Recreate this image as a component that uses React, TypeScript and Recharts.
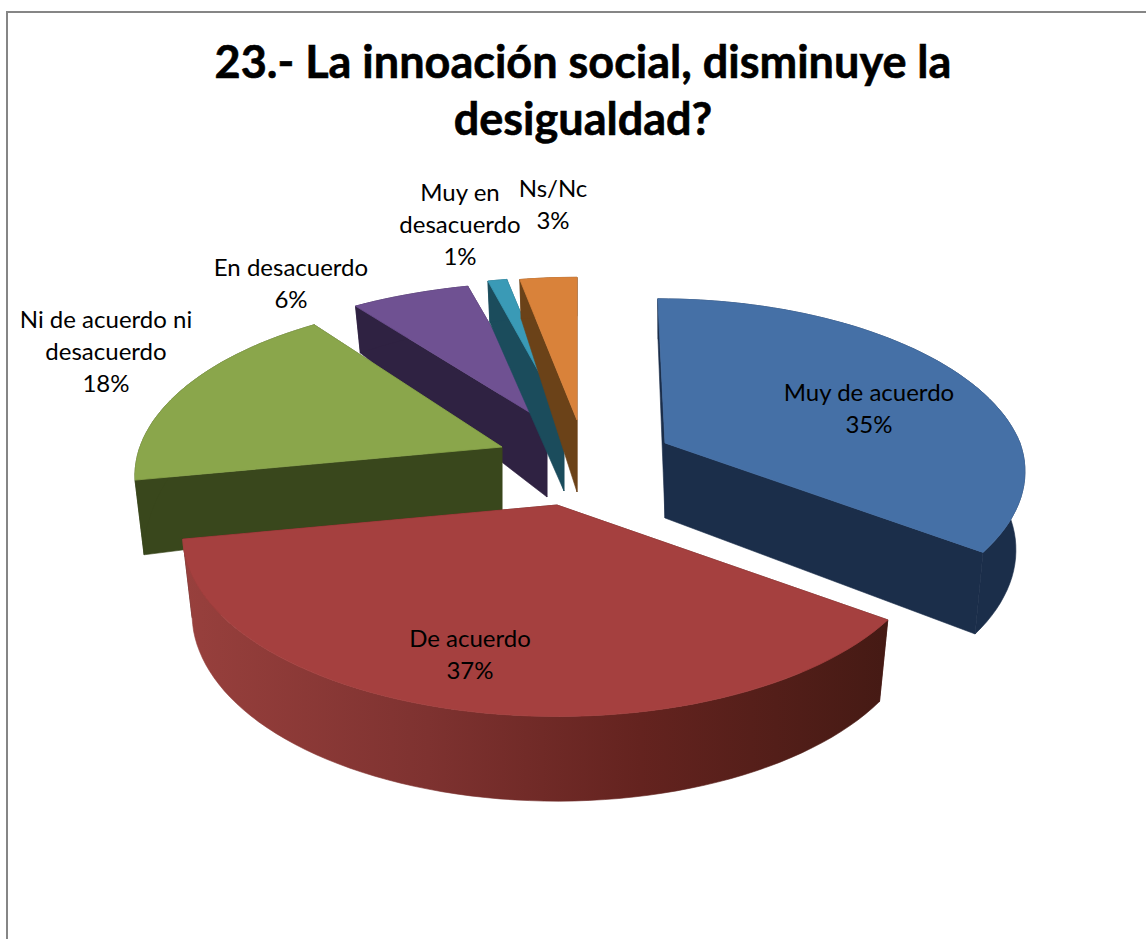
import React from "react";
import { PieChart, Pie } from "recharts";

const categories = ["Muy de acuerdo", "De acuerdo", "Ni de acuerdo ni desacuerdo", "En desacuerdo", "Muy en desacuerdo", "Ns/Nc"];
const values = [35, 37, 18, 6, 1, 3];
const labelLines = [["Muy de acuerdo"], ["De acuerdo"], ["Ni de acuerdo ni", "desacuerdo"], ["En desacuerdo"], ["Muy en", "desacuerdo"], ["Ns/Nc"]];
const titleLines = ["23.- La innoación social, disminuye la", "desigualdad?"];

const topColors = ["#4570a6", "#a5403f", "#8aa64b", "#6f5192", "#3a9ab6", "#d9823a"];
const wallColors = ["#1b2e4a", "url(#redWall)", "#39471c", "#2f2242", "#1b4c5c", "#6b4218"];
const faceColors = ["#1b2e4a", "#4a1b17", "#39471c", "#2f2242", "#1b4c5c", "#6b4218"];

// exploded position of every slice, relative to the pie centre (Excel's per-point explosion)
const explosionX = [88, -20, -75, -30, -13, 0];
const explosionY = [13, 75, 17, -7, -13, -10];
const sliceScale = [1, 1.04, 1.02, 1.04, 1, 1];
const sliceFlatten = [0.96, 0.97, 0.96, 0.9, 0.93, 0.95];
const sliceDepth = [75, 75, 63, 74, 74, 72];
const rimBoost = [1, 1, 1.13, 1, 1, 1];
const sliceLean = [0.05, 0, 0, 0, 0, 0];
const drawLayer = [0, 2, 1, 0, 0, 0];
const layers = [0, 1, 2];
const labelDX = [292, -107, -471, -286, -117, -24];
const labelDY = [-21, 225, -78, -146, -205, -225];

const CX = 577;
const CY = 430;
const R = 355;
const FLATTEN = 175 / 355;
const PERSPECTIVE = 0.165;
const WALL_TAPER = 0.975;
const FONT = "Lato, 'Open Sans', sans-serif";

const chartData = categories.map((name, i) => ({ name, value: values[i] }));

function rim(i: number, thetaDeg: number, cx: number, cy: number, radius: number) {
  const t = (thetaDeg * Math.PI) / 180;
  const s = 1 / (1 + PERSPECTIVE * Math.cos(t));
  const k = radius * sliceScale[i];
  const ox = k * Math.sin(t) * s;
  const oy = -k * FLATTEN * sliceFlatten[i] * Math.cos(t) * s;
  return { x: cx + explosionX[i] + ox + sliceLean[i] * Math.min(oy, 0), y: cy + explosionY[i] + oy, t };
}

function depthAt(i: number, t: number) {
  const c = Math.cos(t);
  return sliceDepth[i] * rimBoost[i] * (c > 0 ? 1.03 - 0.49 * c : 1.03 - 0.1 * c);
}

const pts = (list: { x: number; y: number }[]) => list.map((p) => `${p.x.toFixed(1)},${p.y.toFixed(1)}`).join(" ");

function makeShape(layer: number) {
  return function Slice3D(props: any) {
    const i = categories.indexOf(props.name ?? props.payload?.name);
    if (i < 0 || drawLayer[i] !== layer) return <g />;
    const a0 = 90 - props.startAngle;
    const a1 = 90 - props.endAngle;
    const arc: { x: number; y: number; t: number }[] = [];
    const n = Math.max(2, Math.ceil((a1 - a0) / 2));
    for (let k = 0; k <= n; k++) arc.push(rim(i, a0 + ((a1 - a0) * k) / n, props.cx, props.cy, props.outerRadius));
    const apex = { x: props.cx + explosionX[i], y: props.cy + explosionY[i] };
    const apexLow = { x: apex.x, y: apex.y + sliceDepth[i] };
    const low = arc.map((p) => ({ x: apex.x + (p.x - apex.x) * WALL_TAPER, y: p.y + depthAt(i, p.t) }));
    const last = arc.length - 1;
    return (
      <g>
        <polygon points={pts([apex, arc[last], low[last], apexLow])} fill={faceColors[i]} stroke={faceColors[i]} strokeWidth={0.6} />
        <polygon points={pts([apex, arc[0], low[0], apexLow])} fill={faceColors[i]} stroke={faceColors[i]} strokeWidth={0.6} />
        <polygon points={pts([...arc, ...low.slice().reverse()])} fill={wallColors[i]} stroke={wallColors[i]} strokeWidth={0.6} />
        <polygon points={pts([apex, ...arc])} fill={topColors[i]} stroke={topColors[i]} strokeWidth={0.8} />
      </g>
    );
  };
}

function renderLabel(props: any) {
  const i = props.index;
  const lines = [...labelLines[i], `${values[i]}%`];
  const lh = 32;
  const x = props.cx + labelDX[i];
  const y0 = props.cy + labelDY[i] - ((lines.length - 1) * lh) / 2 + 8;
  return (
    <text x={x} y={y0} textAnchor="middle" fontFamily={FONT} fontSize={24} fill="#000">
      {lines.map((l, k) => (
        <tspan key={k} x={x} y={y0 + k * lh}>{l}</tspan>
      ))}
    </text>
  );
}

export default function App() {
  return (
    <div style={{ position: "fixed", left: 0, top: 0, width: 1146, height: 939, overflow: "hidden", background: "#fff" }}>
      <div style={{ position: "absolute", left: 6, top: 11, width: 1146, height: 960, border: "2px solid #868686", boxSizing: "border-box" }} />
      <div style={{ position: "absolute", left: 0, top: 0 }}>
        <PieChart width={1146} height={939} margin={{ top: 0, right: 0, bottom: 0, left: 0 }}>
          <defs>
            <linearGradient id="redWall" gradientUnits="userSpaceOnUse" x1="182" y1="0" x2="887" y2="0">
              <stop offset="0" stopColor="#98403d" />
              <stop offset="0.35" stopColor="#7e3230" />
              <stop offset="0.65" stopColor="#64231f" />
              <stop offset="1" stopColor="#451a14" />
            </linearGradient>
          </defs>
          <text textAnchor="middle" fontFamily={FONT} fontWeight={700} fontSize={45} fill="#000" stroke="#000" strokeWidth={0.6}>
            {titleLines.map((l, k) => (
              <tspan key={k} x={583} y={78 + k * 57}>{l}</tspan>
            ))}
          </text>
          {layers.map((layer) => (
            <Pie
              key={layer}
              data={chartData}
              dataKey="value"
              nameKey="name"
              cx={CX}
              cy={CY}
              innerRadius={0}
              outerRadius={R}
              startAngle={90}
              endAngle={-270}
              stroke="none"
              isAnimationActive={false}
              shape={makeShape(layer)}
              label={layer === 2 ? renderLabel : false}
              labelLine={false}
            />
          ))}
        </PieChart>
      </div>
    </div>
  );
}
